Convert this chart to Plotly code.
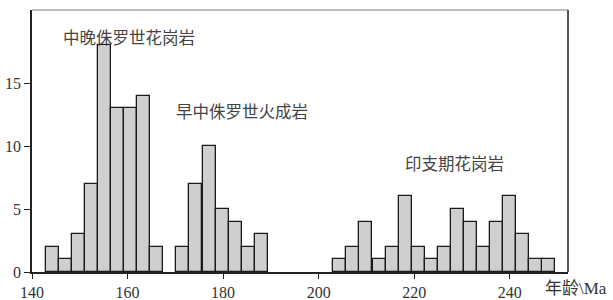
import plotly.graph_objects as go

bin_width = 2.736
centers_mlj = [144.2, 147.0, 149.7, 152.4, 155.2, 157.9, 160.7, 163.4, 166.1]
counts_mlj = [2, 1, 3, 7, 18, 13, 13, 14, 2]

centers_emj = [171.6, 174.3, 177.1, 179.8, 182.5, 185.3, 188.0]
counts_emj = [2, 7, 10, 5, 4, 2, 3]

centers_ind = [204.4, 207.2, 209.9, 212.7, 215.4, 218.1, 220.9, 223.6, 226.3,
               229.1, 231.8, 234.5, 237.3, 240.0, 242.7, 245.5, 248.2]
counts_ind = [1, 2, 4, 1, 2, 6, 2, 1, 2, 5, 4, 2, 4, 6, 3, 1, 1]

x_ticks = [140, 160, 180, 200, 220, 240]
y_ticks = [0, 5, 10, 15]

labels = ["中晚侏罗世花岗岩", "早中侏罗世火成岩", "印支期花岗岩"]
label_x = [160.3, 184.0, 228.4]
label_y = [18.68, 12.82, 8.66]

serif = "Liberation Serif"
cjk = "Noto Sans CJK SC"

fig = go.Figure()
for xs, ys in [(centers_mlj, counts_mlj), (centers_emj, counts_emj), (centers_ind, counts_ind)]:
    fig.add_trace(go.Bar(
        x=xs, y=ys, width=bin_width,
        marker=dict(color="#cfcfcf", line=dict(color="#1a1a1a", width=1.3)),
        showlegend=False, hoverinfo="skip",
    ))

for t, lx, ly in zip(labels, label_x, label_y):
    fig.add_annotation(x=lx, y=ly, xref="x", yref="y", text=t, showarrow=False,
                       font=dict(family=cjk, size=16.5, color="#444444"))

L, R, T, B = 32, 45, 10, 28
W, H = 613, 300
pw, ph = W - L - R, H - T - B

fig.add_annotation(x=(543 - L) / pw, y=(H - B - 288) / ph, xref="paper", yref="paper",
                   text="年龄\\Ma", showarrow=False, xanchor="left", yanchor="middle",
                   font=dict(family="Liberation Serif, Noto Sans CJK SC", size=17, color="#333333"))

# top and right border
fig.add_shape(type="line", xref="paper", yref="paper", x0=0, x1=1, y0=1, y1=1,
              line=dict(color="#a8a8a8", width=1.5))
fig.add_shape(type="line", xref="paper", yref="paper", x0=1, x1=1, y0=0, y1=1,
              line=dict(color="#555555", width=2))

fig.update_layout(
    width=W, height=H,
    margin=dict(l=L, r=R, t=T, b=B, autoexpand=False),
    paper_bgcolor="white", plot_bgcolor="white",
    bargap=0,
    xaxis=dict(range=[140, 252.2], tickvals=x_ticks, ticks="outside", ticklen=5,
               tickcolor="#222", showline=True, linecolor="#222", linewidth=1.5,
               showgrid=False, zeroline=False, automargin=False,
               tickfont=dict(family=serif, size=16, color="#333")),
    yaxis=dict(range=[0, 20.8], tickvals=y_ticks, ticks="outside", ticklen=6,
               tickcolor="#222", showline=True, linecolor="#222", linewidth=1.5,
               showgrid=False, zeroline=False, automargin=False,
               tickfont=dict(family=serif, size=16, color="#333")),
)

fig.write_html("out.html", config={"displayModeBar": False},
               post_script="document.body.style.margin='0';document.body.style.overflow='hidden';")
